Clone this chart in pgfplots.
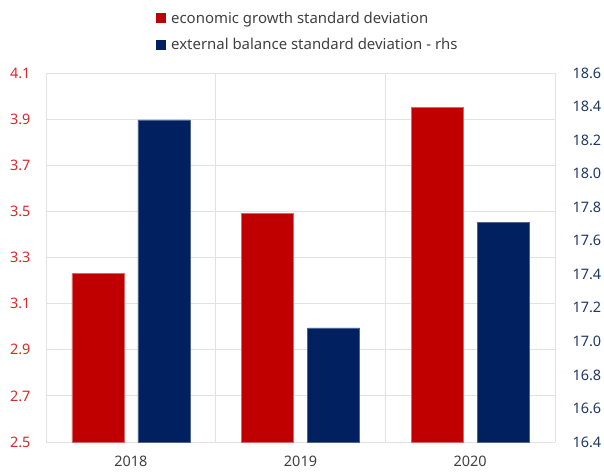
\documentclass[border=0pt]{standalone}
\usepackage{fontspec}
\setmainfont{Noto Sans}
\usepackage{pgfplots}
\pgfplotsset{compat=1.18}
\definecolor{barred}{HTML}{C00000}
\definecolor{barblue}{HTML}{002060}
\definecolor{lblred}{HTML}{D42A2A}
\definecolor{lblblue}{HTML}{203864}
\definecolor{gridgray}{HTML}{E2E2E2}
\definecolor{txtgray}{HTML}{404040}
\begin{document}
\begin{tikzpicture}
\useasboundingbox (0,0) rectangle (604bp,475bp);
\begin{axis}[
  at={(46bp,33bp)}, anchor=south west,
  scale only axis, width=509bp, height=369bp,
  xmin=-0.5, xmax=2.5,
  ymin=2.5, ymax=4.1,
  ytick={2.5,2.7,2.9,3.1,3.3,3.5,3.7,3.9,4.1},
  xtick={0,1,2}, xticklabels={2018,2019,2020},
  minor xtick={0.5,1.5},
  xminorgrids, ymajorgrids,
  grid style={gridgray, line width=0.8pt},
  minor grid style={gridgray, line width=0.8pt},
  axis line style={gridgray, line width=0.8pt},
  major tick length=0pt, minor tick length=0pt,
  axis y line*=left,
  axis x line*=bottom,
  /pgf/number format/assume math mode=true,
  /pgf/number format/.cd, fixed, fixed zerofill, precision=1, /pgfplots/.cd,
  yticklabel style={text=lblred},
  xticklabel style={text=txtgray},
  tick label style={font=\fontsize{14.5}{17}\selectfont},
  ytick style={draw=none}, xtick style={draw=none},
  yticklabel style={xshift=-12bp},
  xticklabel style={yshift=-11bp},
  clip=false,
]
\addplot[ybar, bar width=52bp, bar shift=-33bp, fill=barred, draw=barred!60!white, line width=0.4pt]
  coordinates {(0,3.23) (1,3.49) (2,3.95)};
\draw[gridgray, line width=0.8pt] (rel axis cs:0,1) -- (rel axis cs:1,1) -- (rel axis cs:1,0);
\end{axis}
\begin{axis}[
  at={(46bp,33bp)}, anchor=south west,
  scale only axis, width=509bp, height=369bp,
  xmin=-0.5, xmax=2.5,
  ymin=16.4, ymax=18.6,
  ytick={16.4,16.6,16.8,17.0,17.2,17.4,17.6,17.8,18.0,18.2,18.4,18.6},
  axis y line*=right,
  hide x axis,
  axis line style={gridgray, line width=0.8pt},
  major tick length=0pt,
  /pgf/number format/assume math mode=true,
  /pgf/number format/.cd, fixed, fixed zerofill, precision=1, /pgfplots/.cd,
  yticklabel style={text=lblblue, xshift=14bp, font=\fontsize{14.5}{17}\selectfont},
  ytick style={draw=none},
  legend style={at={(0.216,1.172)}, anchor=north west, draw=none, fill=none,
    font=\fontsize{15}{18}\selectfont, text=txtgray,
    row sep=10bp, inner sep=0pt, legend cell align=left,
    nodes={inner xsep=5bp}},
  legend image code/.code={\fill[#1] (0bp,-5bp) rectangle (10bp,5bp);},
]
\addlegendimage{fill=barred, draw=none}
\addlegendentry{economic growth standard deviation}
\addlegendimage{fill=barblue, draw=none}
\addlegendentry{external balance standard deviation - rhs}
\addplot[ybar, bar width=52bp, bar shift=33bp, fill=barblue, draw=barblue!70!white, line width=0.4pt, forget plot]
  coordinates {(0,18.32) (1,17.08) (2,17.71)};
\end{axis}
\end{tikzpicture}
\end{document}
